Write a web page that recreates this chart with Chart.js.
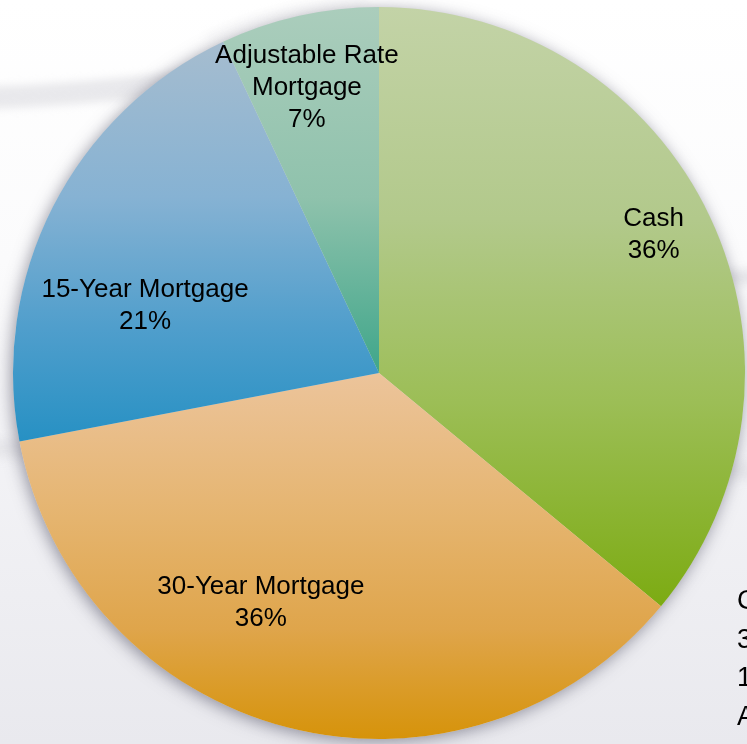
<!DOCTYPE html>
<html>
<head>
<meta charset="utf-8">
<script src="https://cdn.jsdelivr.net/npm/chart.js@4"></script>
<style>
  html, body { margin: 0; padding: 0; background: #fff; }
  canvas { display: block; }
</style>
</head>
<body>
<canvas id="chartFinancing" width="747" height="744"></canvas>
<script>
// ===== data =====
const categories = ["Cash", "30-Year Mortgage", "15-Year Mortgage", "Adjustable Rate Mortgage"];
const shares = [36, 36, 21, 7];
// how the slice labels wrap inside the pie
const labelLines = [["Cash"], ["30-Year Mortgage"], ["15-Year Mortgage"], ["Adjustable Rate", "Mortgage"]];

// ===== style =====
const flatColors = ["#9dbf57", "#e4b271", "#5aa4cf", "#79b9a2"];
// vertical gradient stops, 0 = top of pie, 1 = bottom of pie
const gradientStops = [
  [[0, "#c3d3a7"], [0.29, "#b2c98b"], [0.54, "#9cbe56"], [0.82, "#7cab12"]],
  [[0.5, "#ecc49b"], [0.7, "#e5b46e"], [0.85, "#dfa54b"], [1, "#d6930a"]],
  [[0.04, "#a7bdcf"], [0.26, "#86b2d3"], [0.44, "#4f9ecc"], [0.6, "#2590c3"]],
  [[0, "#abcdbc"], [0.26, "#8fc2ac"], [0.5, "#3fa68a"]],
];
// label placement: shift from slice middle (degrees) and fraction of radius
const labelShift = [-1.5, 12.8, -11, -1.6];
const labelRadius = [0.84, 0.706, 0.665, 0.803];
const fontFamily = "'Liberation Sans', Arial, sans-serif";

const gradCache = {};
function sliceFill(c) {
  const { ctx, chartArea } = c.chart;
  const i = c.dataIndex;
  if (!chartArea) return flatColors[i];
  const key = i + ":" + chartArea.top + ":" + chartArea.bottom;
  if (!gradCache[key]) {
    const g = ctx.createLinearGradient(0, chartArea.top, 0, chartArea.bottom);
    gradientStops[i].forEach(([o, col]) => g.addColorStop(o, col));
    gradCache[key] = g;
  }
  return gradCache[key];
}

// background swooshes
const backdrop = {
  id: "backdrop",
  beforeDraw(chart) {
    const { ctx, width, height } = chart;
    ctx.save();
    const g = ctx.createLinearGradient(0, 0, 0, height);
    g.addColorStop(0, "#ffffff");
    g.addColorStop(0.35, "#fbfbfc");
    g.addColorStop(0.6, "#f3f3f6");
    g.addColorStop(1, "#e9e9ee");
    ctx.fillStyle = g;
    ctx.fillRect(0, 0, width, height);

    ctx.filter = "blur(4px)";
    ctx.strokeStyle = "rgba(215,215,220,0.55)";
    ctx.lineWidth = 22;
    ctx.beginPath();
    ctx.moveTo(-20, 98);
    ctx.quadraticCurveTo(120, 94, 260, 70);
    ctx.stroke();
    ctx.lineWidth = 14;
    ctx.beginPath();
    ctx.moveTo(600, 280);
    ctx.lineTo(780, 276);
    ctx.stroke();
    ctx.strokeStyle = "rgba(215,215,220,0.4)";
    ctx.lineWidth = 18;
    ctx.beginPath();
    ctx.moveTo(-20, 448);
    ctx.lineTo(780, 472);
    ctx.stroke();
    ctx.strokeStyle = "rgba(220,220,225,0.4)";
    ctx.lineWidth = 3;
    ctx.beginPath();
    ctx.arc(380, 420, 420, -2.0, -1.6);
    ctx.stroke();
    ctx.restore();
  },
};

// soft shadow under the pie, with a light halo
const pieShadow = {
  id: "pieShadow",
  beforeDatasetsDraw(chart) {
    const arc = chart.getDatasetMeta(0).data[0];
    if (!arc) return;
    const { ctx } = chart;
    ctx.save();
    ctx.shadowColor = "rgba(70,70,90,0.55)";
    ctx.shadowBlur = 16;
    ctx.shadowOffsetX = -2;
    ctx.shadowOffsetY = 3;
    ctx.fillStyle = "#d8d8dc";
    ctx.beginPath();
    ctx.arc(arc.x, arc.y, arc.outerRadius, 0, Math.PI * 2);
    ctx.fill();
    ctx.restore();
  },
};

// category + percent labels inside slices
const sliceLabels = {
  id: "sliceLabels",
  afterDatasetsDraw(chart) {
    const { ctx } = chart;
    const meta = chart.getDatasetMeta(0);
    const total = shares.reduce((a, b) => a + b, 0);
    ctx.save();
    ctx.fillStyle = "#000";
    ctx.font = "26px " + fontFamily;
    ctx.textAlign = "center";
    ctx.textBaseline = "middle";
    meta.data.forEach((arc, i) => {
      const mid = (arc.startAngle + arc.endAngle) / 2 + (labelShift[i] * Math.PI) / 180;
      const r = arc.outerRadius * labelRadius[i];
      const x = arc.x + r * Math.cos(mid);
      const y = arc.y + r * Math.sin(mid);
      const lines = labelLines[i].concat([Math.round((shares[i] / total) * 100) + "%"]);
      const lh = 32;
      const y0 = y - ((lines.length - 1) * lh) / 2;
      lines.forEach((t, k) => ctx.fillText(t, x, y0 + k * lh));
    });
    ctx.restore();
  },
};

// legend text on the right, runs off the edge of the picture
const sideLegend = {
  id: "sideLegend",
  afterDraw(chart) {
    const { ctx } = chart;
    ctx.save();
    ctx.fillStyle = "#000";
    ctx.font = "27px " + fontFamily;
    ctx.textAlign = "left";
    ctx.textBaseline = "middle";
    categories.forEach((c, i) => ctx.fillText(c, 737, 602 + i * 38.5));
    ctx.restore();
  },
};

new Chart(document.getElementById("chartFinancing"), {
  type: "pie",
  data: {
    labels: categories,
    datasets: [
      {
        data: shares,
        backgroundColor: sliceFill,
        borderWidth: 0,
      },
    ],
  },
  options: {
    responsive: false,
    animation: false,
    layout: { padding: { left: 13, right: 2, top: 7, bottom: 5 } },
    plugins: {
      legend: { display: false },
      tooltip: { enabled: false },
    },
  },
  plugins: [backdrop, pieShadow, sliceLabels, sideLegend],
});
</script>
</body>
</html>
